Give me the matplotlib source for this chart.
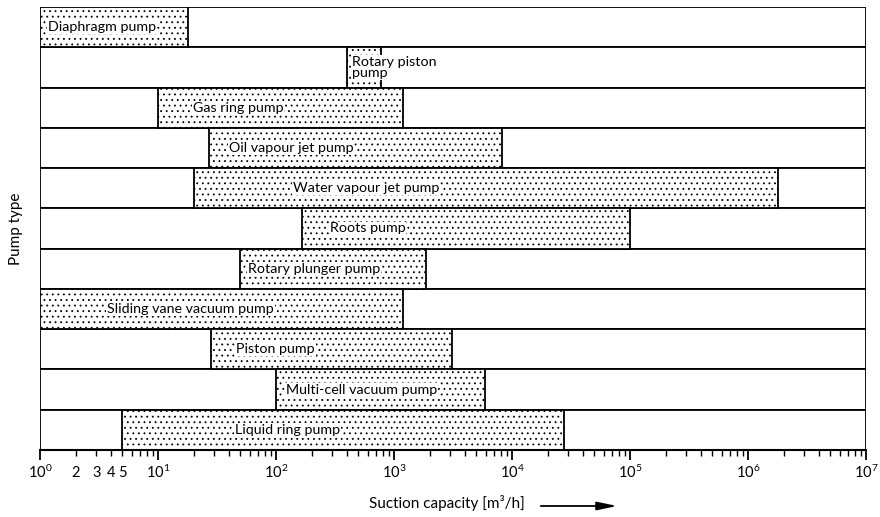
import numpy as np
import matplotlib
matplotlib.use('Agg')
import matplotlib.pyplot as plt
from matplotlib.patches import Rectangle
from matplotlib.ticker import FixedLocator, NullFormatter, LogFormatterSciNotation

# pump types, top to bottom
pumps = ["Diaphragm pump", "Rotary piston\npump", "Gas ring pump", "Oil vapour jet pump",
         "Water vapour jet pump", "Roots pump", "Rotary plunger pump",
         "Sliding vane vacuum pump", "Piston pump", "Multi-cell vacuum pump",
         "Liquid ring pump"]
# suction capacity range [m3/h]
cap_min = [1, 400, 10, 27, 20, 165, 50, 1, 28, 100, 5]
cap_max = [18, 770, 1200, 8200, 1.8e6, 1.0e5, 1850, 1200, 3100, 5900, 27500]
# where the label starts inside each bar
label_x = [1.17, 440, 19.8, 40, 139, 287, 58, 3.7, 46, 121, 45]
# decades on the axis and the extra labels in the first decade
decades = [1, 10, 100, 1e3, 1e4, 1e5, 1e6, 1e7]
first_decade = [2, 3, 4, 5]

plt.rcParams['font.family'] = ['Lato', 'DejaVu Sans']
plt.rcParams['hatch.linewidth'] = 0.6

fig = plt.figure(figsize=(8.8, 5.17), dpi=100)
ax = fig.add_axes([40 / 880, 1 - 450 / 517, 826 / 880, 443 / 517])
ax.set_xscale('log')
ax.set_xlim(1, 1e7)
n = len(pumps)
ax.set_ylim(0, n)

for i, name in enumerate(pumps):
    y0 = n - 1 - i
    ax.add_patch(Rectangle((1, y0), 1e7 - 1, 1, facecolor='white',
                           edgecolor='black', lw=1.3, zorder=1))
    ax.add_patch(Rectangle((cap_min[i], y0), cap_max[i] - cap_min[i], 1,
                           facecolor='white', edgecolor='black', hatch='...',
                           lw=1.3, zorder=2))
    ax.text(label_x[i], y0 + 0.5, name, va='center', ha='left', fontsize=10.3,
            linespacing=0.95, zorder=3,
            bbox=dict(facecolor='white', edgecolor='none', pad=0.5))

for s in ['top', 'right', 'left']:
    ax.spines[s].set_visible(False)
ax.spines['bottom'].set_linewidth(1.5)
ax.set_yticks([])

ax.xaxis.set_major_locator(FixedLocator(decades))
ax.xaxis.set_major_formatter(LogFormatterSciNotation())
minors = [m * d for d in decades[:-1] for m in range(2, 10)]
ax.xaxis.set_minor_locator(FixedLocator(minors))
ax.xaxis.set_minor_formatter(NullFormatter())
ax.tick_params(axis='x', which='major', length=7, width=1.3, labelsize=10.5, pad=3)
ax.tick_params(axis='x', which='minor', length=4, width=1.0)

# numbers under the minor ticks of the first decade
tr = ax.get_xaxis_transform()
for v in first_decade:
    ax.text(v, -0.052, str(v), transform=tr, ha='center', va='center', fontsize=10.5)

ax.set_ylabel("Pump type", fontsize=11, labelpad=12)
fig.text(447 / 880, 1 - 503 / 517, "Suction capacity [m³/h]", ha='center',
         va='center', fontsize=11)
ax.annotate('', xy=(620 / 880, 1 - 506 / 517), xytext=(538 / 880, 1 - 506 / 517),
            xycoords='figure fraction', textcoords='figure fraction',
            arrowprops=dict(arrowstyle='-|>,head_length=1.2,head_width=0.25',
                            lw=1.3, color='black'))

fig.savefig('out.png', dpi=100)
